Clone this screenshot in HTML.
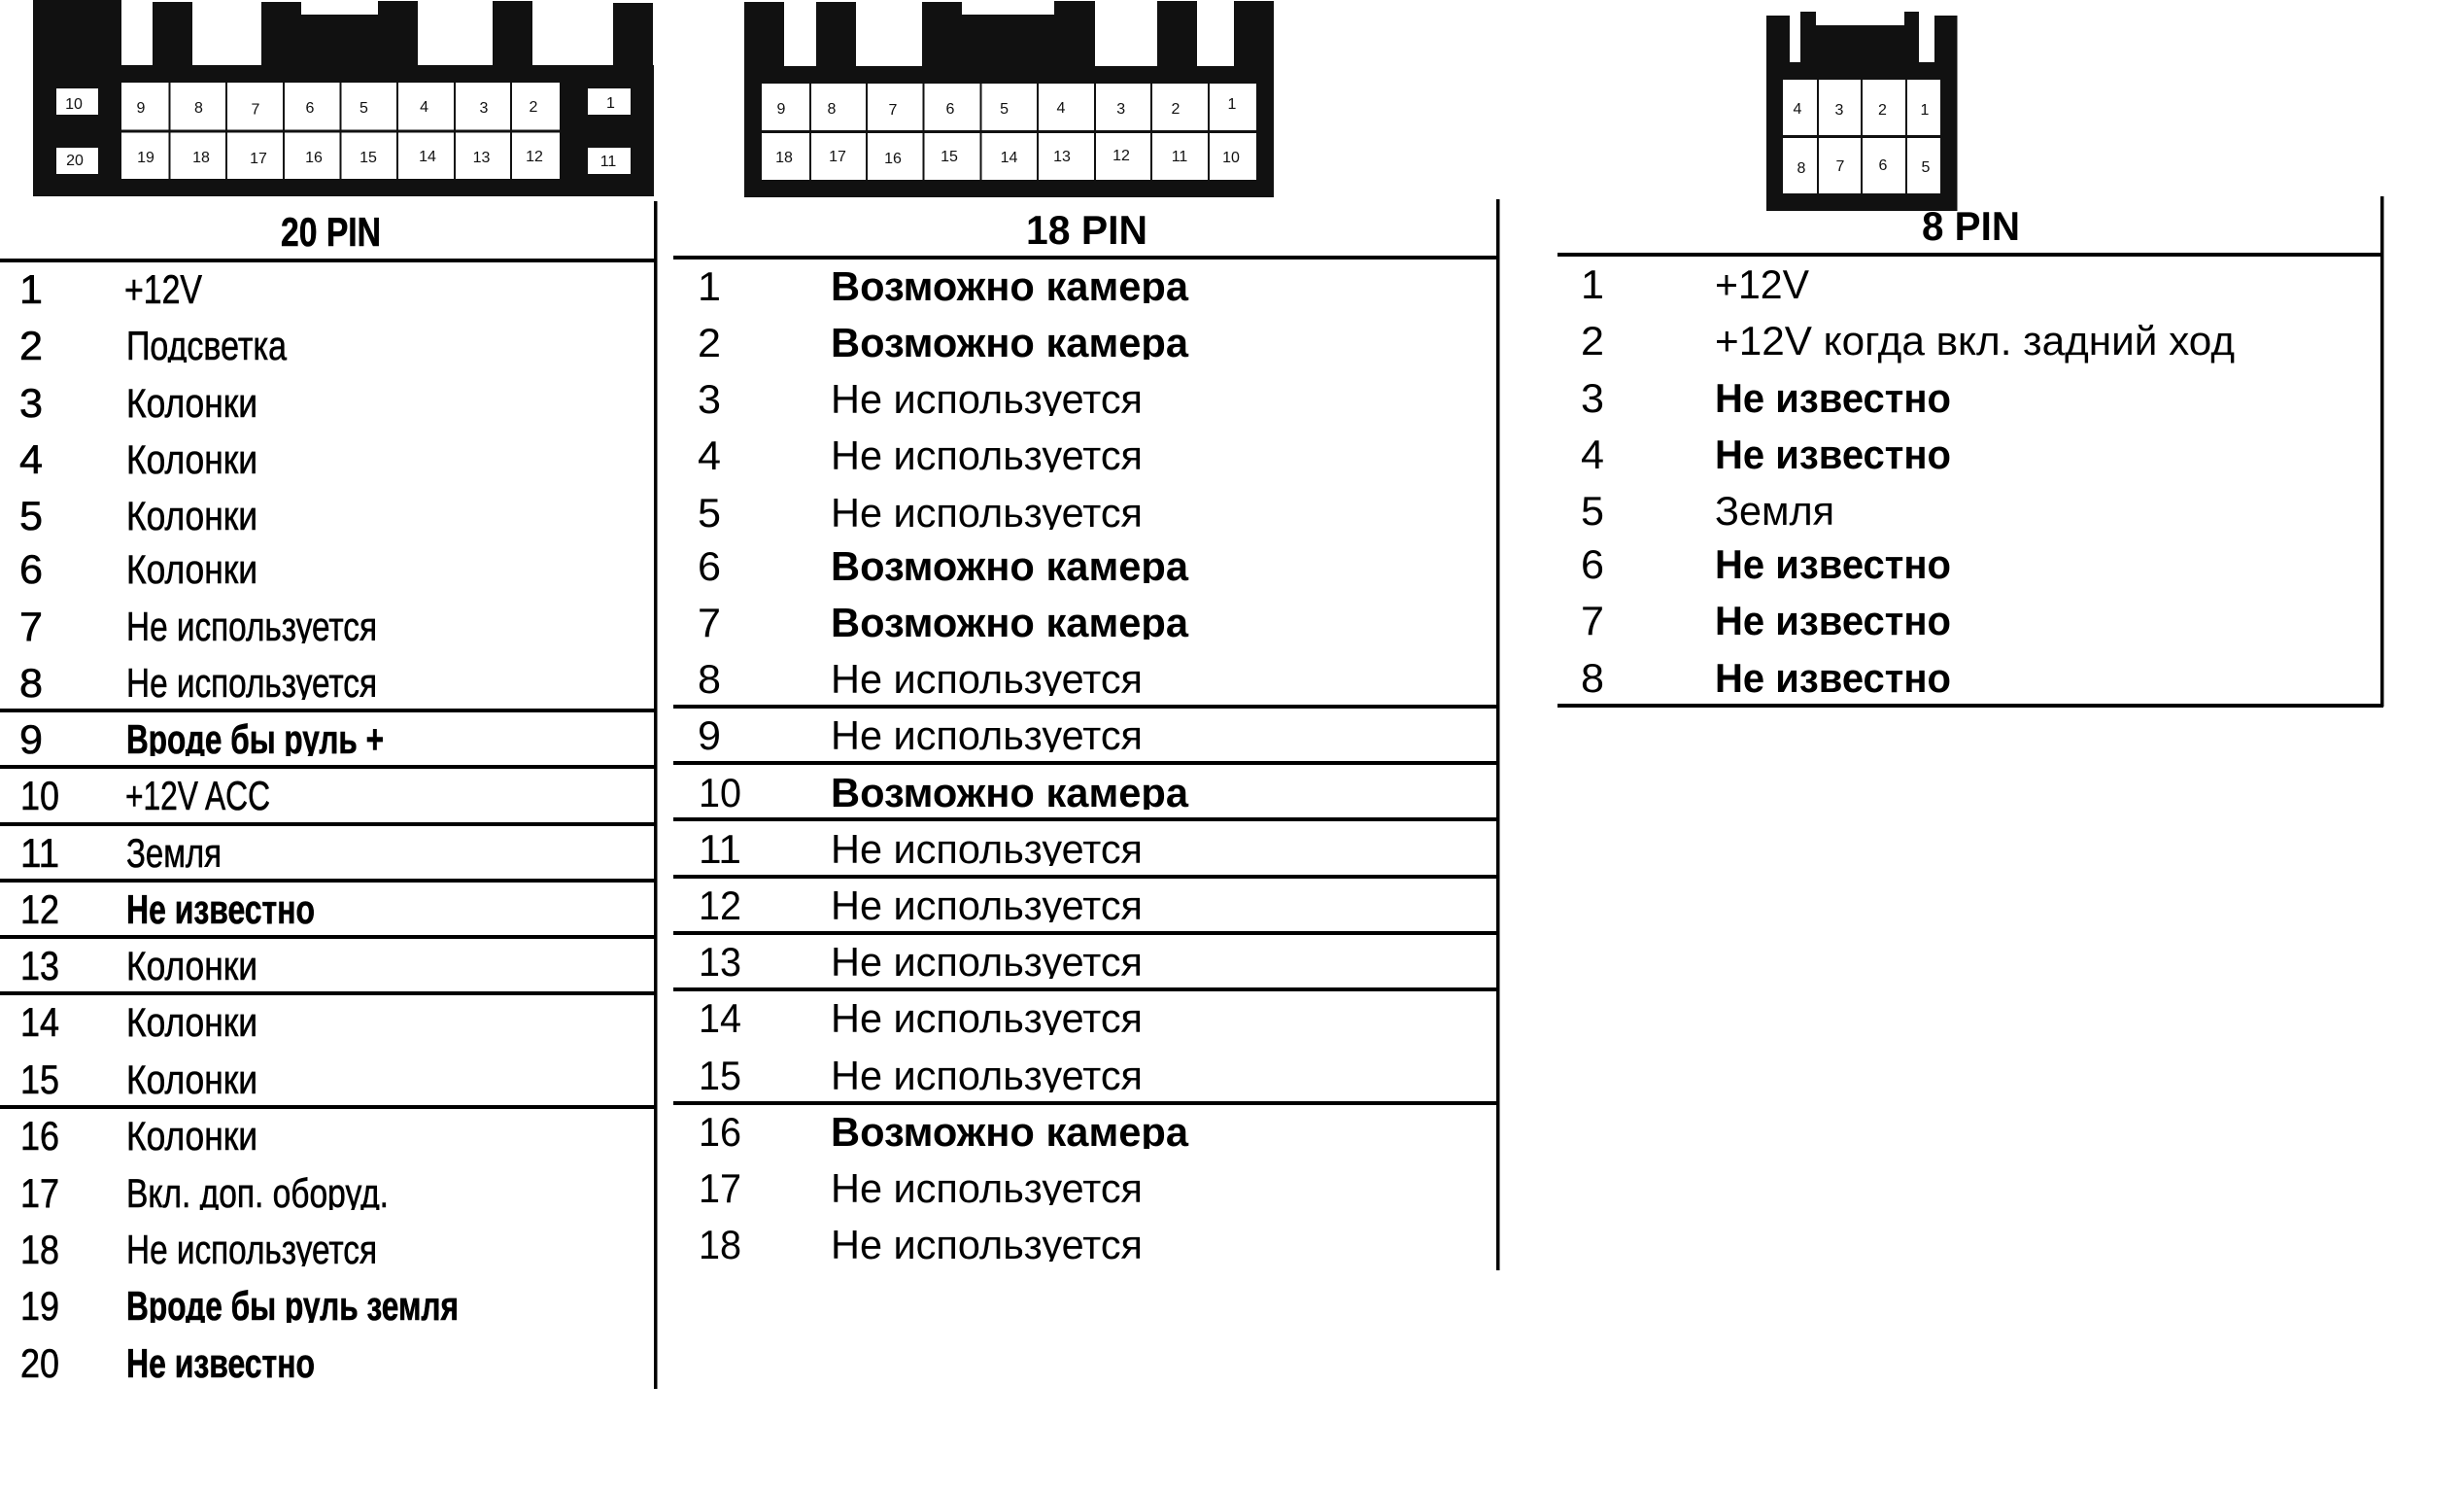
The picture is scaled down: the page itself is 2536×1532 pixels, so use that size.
<!DOCTYPE html>
<html><head><meta charset="utf-8"><style>
html,body{margin:0;padding:0;background:#fff;width:2536px;height:1532px;overflow:hidden}
svg{display:block}
text{font-family:"Liberation Sans","Noto Sans CJK SC",sans-serif;fill:#000}
.p text{font-size:16px;text-anchor:middle;fill:#111}
.t text{font-size:42px}
.b{font-weight:bold}
.h text{stroke:#000;stroke-width:.6px}
</style></head><body>
<svg xmlns="http://www.w3.org/2000/svg" width="2536" height="1532" viewBox="0 0 2536 1532">
<rect width="2536" height="1532" fill="#fff"/>

<!-- 20 pin connector -->
<path fill="#111" d="M34 0H125V67H157V2H198V67H269V2H310V15H389V1H430V67H507V1H548V67H631V3H672V67H673V202H34Z"/>
<rect x="125" y="85" width="451" height="99" fill="#fff"/>
<path stroke="#111" stroke-width="2" d="M174.5 85V184M233 85V184M292 85V184M350.5 85V184M409 85V184M468 85V184M526 85V184"/>
<rect x="125" y="133.5" width="451" height="3" fill="#111"/>
<g fill="#fff"><rect x="58" y="91" width="43" height="27"/><rect x="58" y="152" width="43" height="27"/><rect x="605" y="91" width="44" height="27"/><rect x="605" y="152" width="44" height="27"/></g>
<g class="p">
<text x="145" y="116">9</text><text x="204.5" y="116">8</text><text x="263" y="117.5">7</text><text x="319" y="116">6</text><text x="374.5" y="116">5</text><text x="436.6" y="115">4</text><text x="498" y="116">3</text><text x="549" y="115">2</text>
<text x="150" y="167">19</text><text x="207" y="167">18</text><text x="266" y="168">17</text><text x="323" y="167">16</text><text x="379" y="167">15</text><text x="440" y="166">14</text><text x="495.5" y="167">13</text><text x="550" y="166">12</text>
<text x="76" y="112">10</text><text x="77" y="170">20</text><text x="628.5" y="111">1</text><text x="626" y="171">11</text>
</g>

<!-- 18 pin connector -->
<path fill="#111" d="M766 2H807V68H840V2H881V68H949V2H990V15H1085V1H1127V68H1191V1H1232V68H1270V1H1311V203H766Z"/>
<rect x="784" y="86" width="509" height="99" fill="#fff"/>
<path stroke="#111" stroke-width="2" d="M834 86V185M892 86V185M950.5 86V185M1009.5 86V185M1068 86V185M1127 86V185M1185 86V185M1244 86V185"/>
<rect x="784" y="134" width="509" height="3" fill="#111"/>
<g class="p">
<text x="804" y="117">9</text><text x="856" y="117">8</text><text x="919" y="118">7</text><text x="978" y="117">6</text><text x="1033.6" y="117">5</text><text x="1092" y="116">4</text><text x="1153.7" y="117">3</text><text x="1210" y="117">2</text><text x="1268" y="112">1</text>
<text x="807" y="167">18</text><text x="862" y="166">17</text><text x="919" y="168">16</text><text x="977" y="166">15</text><text x="1038.5" y="167">14</text><text x="1093" y="166">13</text><text x="1154" y="165">12</text><text x="1214" y="166">11</text><text x="1267" y="167">10</text>
</g>

<!-- 8 pin connector -->
<path fill="#111" d="M1818 16H1842V64H1853V12H1869V26H1960V12H1975V64H1991V16H2014.5V217H1818Z"/>
<rect x="1835" y="82" width="162" height="117" fill="#fff"/>
<path stroke="#111" stroke-width="2" d="M1871 82V199M1916 82V199M1962 82V199"/>
<rect x="1835" y="139" width="162" height="3" fill="#111"/>
<g class="p">
<text x="1850" y="117">4</text><text x="1893" y="118">3</text><text x="1937.5" y="118">2</text><text x="1981" y="118">1</text>
<text x="1854" y="178">8</text><text x="1894" y="176">7</text><text x="1938" y="175">6</text><text x="1982" y="177">5</text>
</g>

<!-- 20 pin table text -->
<g class="t h">
<text class="b" x="289" y="253" textLength="103" lengthAdjust="spacingAndGlyphs">20 PIN</text>
<text x="20" y="312" textLength="24" lengthAdjust="spacingAndGlyphs">1</text><text x="128" y="312" textLength="80" lengthAdjust="spacingAndGlyphs">+12V</text>
<text x="20" y="370" textLength="24" lengthAdjust="spacingAndGlyphs">2</text><text x="130" y="370" textLength="165" lengthAdjust="spacingAndGlyphs">Подсветка</text>
<text x="20" y="429" textLength="24" lengthAdjust="spacingAndGlyphs">3</text><text x="130" y="429" textLength="135" lengthAdjust="spacingAndGlyphs">Колонки</text>
<text x="20" y="487" textLength="24" lengthAdjust="spacingAndGlyphs">4</text><text x="130" y="487" textLength="135" lengthAdjust="spacingAndGlyphs">Колонки</text>
<text x="20" y="545" textLength="24" lengthAdjust="spacingAndGlyphs">5</text><text x="130" y="545" textLength="135" lengthAdjust="spacingAndGlyphs">Колонки</text>
<text x="20" y="600" textLength="24" lengthAdjust="spacingAndGlyphs">6</text><text x="130" y="600" textLength="135" lengthAdjust="spacingAndGlyphs">Колонки</text>
<text x="20" y="659" textLength="24" lengthAdjust="spacingAndGlyphs">7</text><text x="130" y="659" textLength="258" lengthAdjust="spacingAndGlyphs">Не используется</text>
<text x="20" y="717" textLength="24" lengthAdjust="spacingAndGlyphs">8</text><text x="130" y="717" textLength="258" lengthAdjust="spacingAndGlyphs">Не используется</text>
<text x="20" y="775" textLength="24" lengthAdjust="spacingAndGlyphs">9</text><text class="b" x="130" y="775" textLength="265" lengthAdjust="spacingAndGlyphs">Вроде бы руль +</text>
<text x="21" y="833" textLength="40" lengthAdjust="spacingAndGlyphs">10</text><text x="129" y="833" textLength="149" lengthAdjust="spacingAndGlyphs">+12V ACC</text>
<text x="21" y="892" textLength="40" lengthAdjust="spacingAndGlyphs">11</text><text x="130" y="892" textLength="98" lengthAdjust="spacingAndGlyphs">Земля</text>
<text x="21" y="950" textLength="40" lengthAdjust="spacingAndGlyphs">12</text><text class="b" x="130" y="950" textLength="194" lengthAdjust="spacingAndGlyphs">Не известно</text>
<text x="21" y="1008" textLength="40" lengthAdjust="spacingAndGlyphs">13</text><text x="130" y="1008" textLength="135" lengthAdjust="spacingAndGlyphs">Колонки</text>
<text x="21" y="1066" textLength="40" lengthAdjust="spacingAndGlyphs">14</text><text x="130" y="1066" textLength="135" lengthAdjust="spacingAndGlyphs">Колонки</text>
<text x="21" y="1125" textLength="40" lengthAdjust="spacingAndGlyphs">15</text><text x="130" y="1125" textLength="135" lengthAdjust="spacingAndGlyphs">Колонки</text>
<text x="21" y="1183" textLength="40" lengthAdjust="spacingAndGlyphs">16</text><text x="130" y="1183" textLength="135" lengthAdjust="spacingAndGlyphs">Колонки</text>
<text x="21" y="1242" textLength="40" lengthAdjust="spacingAndGlyphs">17</text><text x="130" y="1242" textLength="270" lengthAdjust="spacingAndGlyphs">Вкл. доп. оборуд.</text>
<text x="21" y="1300" textLength="40" lengthAdjust="spacingAndGlyphs">18</text><text x="130" y="1300" textLength="258" lengthAdjust="spacingAndGlyphs">Не используется</text>
<text x="21" y="1358" textLength="40" lengthAdjust="spacingAndGlyphs">19</text><text class="b" x="130" y="1358" textLength="342" lengthAdjust="spacingAndGlyphs">Вроде бы руль земля</text>
<text x="21" y="1417" textLength="40" lengthAdjust="spacingAndGlyphs">20</text><text class="b" x="130" y="1417" textLength="194" lengthAdjust="spacingAndGlyphs">Не известно</text>
</g>

<!-- 18 pin table text -->
<g class="t">
<text class="b" x="1056" y="251" textLength="125" lengthAdjust="spacingAndGlyphs">18 PIN</text>
<text x="718" y="309" textLength="24" lengthAdjust="spacingAndGlyphs">1</text><text class="b" x="855" y="309" textLength="368" lengthAdjust="spacingAndGlyphs">Возможно камера</text>
<text x="718" y="367" textLength="24" lengthAdjust="spacingAndGlyphs">2</text><text class="b" x="855" y="367" textLength="368" lengthAdjust="spacingAndGlyphs">Возможно камера</text>
<text x="718" y="425" textLength="24" lengthAdjust="spacingAndGlyphs">3</text><text x="855" y="425" textLength="321" lengthAdjust="spacingAndGlyphs">Не используется</text>
<text x="718" y="483" textLength="24" lengthAdjust="spacingAndGlyphs">4</text><text x="855" y="483" textLength="321" lengthAdjust="spacingAndGlyphs">Не используется</text>
<text x="718" y="542" textLength="24" lengthAdjust="spacingAndGlyphs">5</text><text x="855" y="542" textLength="321" lengthAdjust="spacingAndGlyphs">Не используется</text>
<text x="718" y="597" textLength="24" lengthAdjust="spacingAndGlyphs">6</text><text class="b" x="855" y="597" textLength="368" lengthAdjust="spacingAndGlyphs">Возможно камера</text>
<text x="718" y="655" textLength="24" lengthAdjust="spacingAndGlyphs">7</text><text class="b" x="855" y="655" textLength="368" lengthAdjust="spacingAndGlyphs">Возможно камера</text>
<text x="718" y="713" textLength="24" lengthAdjust="spacingAndGlyphs">8</text><text x="855" y="713" textLength="321" lengthAdjust="spacingAndGlyphs">Не используется</text>
<text x="718" y="771" textLength="24" lengthAdjust="spacingAndGlyphs">9</text><text x="855" y="771" textLength="321" lengthAdjust="spacingAndGlyphs">Не используется</text>
<text x="719" y="830" textLength="44" lengthAdjust="spacingAndGlyphs">10</text><text class="b" x="855" y="830" textLength="368" lengthAdjust="spacingAndGlyphs">Возможно камера</text>
<text x="719" y="888" textLength="44" lengthAdjust="spacingAndGlyphs">11</text><text x="855" y="888" textLength="321" lengthAdjust="spacingAndGlyphs">Не используется</text>
<text x="719" y="946" textLength="44" lengthAdjust="spacingAndGlyphs">12</text><text x="855" y="946" textLength="321" lengthAdjust="spacingAndGlyphs">Не используется</text>
<text x="719" y="1004" textLength="44" lengthAdjust="spacingAndGlyphs">13</text><text x="855" y="1004" textLength="321" lengthAdjust="spacingAndGlyphs">Не используется</text>
<text x="719" y="1062" textLength="44" lengthAdjust="spacingAndGlyphs">14</text><text x="855" y="1062" textLength="321" lengthAdjust="spacingAndGlyphs">Не используется</text>
<text x="719" y="1121" textLength="44" lengthAdjust="spacingAndGlyphs">15</text><text x="855" y="1121" textLength="321" lengthAdjust="spacingAndGlyphs">Не используется</text>
<text x="719" y="1179" textLength="44" lengthAdjust="spacingAndGlyphs">16</text><text class="b" x="855" y="1179" textLength="368" lengthAdjust="spacingAndGlyphs">Возможно камера</text>
<text x="719" y="1237" textLength="44" lengthAdjust="spacingAndGlyphs">17</text><text x="855" y="1237" textLength="321" lengthAdjust="spacingAndGlyphs">Не используется</text>
<text x="719" y="1295" textLength="44" lengthAdjust="spacingAndGlyphs">18</text><text x="855" y="1295" textLength="321" lengthAdjust="spacingAndGlyphs">Не используется</text>
</g>

<!-- 8 pin table text -->
<g class="t">
<text class="b" x="1978" y="247" textLength="101" lengthAdjust="spacingAndGlyphs">8 PIN</text>
<text x="1627" y="307" textLength="24" lengthAdjust="spacingAndGlyphs">1</text><text x="1765" y="307" textLength="97" lengthAdjust="spacingAndGlyphs">+12V</text>
<text x="1627" y="365" textLength="24" lengthAdjust="spacingAndGlyphs">2</text><text x="1765" y="365" textLength="535" lengthAdjust="spacingAndGlyphs">+12V когда вкл. задний ход</text>
<text x="1627" y="424" textLength="24" lengthAdjust="spacingAndGlyphs">3</text><text class="b" x="1765" y="424" textLength="243" lengthAdjust="spacingAndGlyphs">Не известно</text>
<text x="1627" y="482" textLength="24" lengthAdjust="spacingAndGlyphs">4</text><text class="b" x="1765" y="482" textLength="243" lengthAdjust="spacingAndGlyphs">Не известно</text>
<text x="1627" y="540" textLength="24" lengthAdjust="spacingAndGlyphs">5</text><text x="1765" y="540" textLength="123" lengthAdjust="spacingAndGlyphs">Земля</text>
<text x="1627" y="595" textLength="24" lengthAdjust="spacingAndGlyphs">6</text><text class="b" x="1765" y="595" textLength="243" lengthAdjust="spacingAndGlyphs">Не известно</text>
<text x="1627" y="653" textLength="24" lengthAdjust="spacingAndGlyphs">7</text><text class="b" x="1765" y="653" textLength="243" lengthAdjust="spacingAndGlyphs">Не известно</text>
<text x="1627" y="712" textLength="24" lengthAdjust="spacingAndGlyphs">8</text><text class="b" x="1765" y="712" textLength="243" lengthAdjust="spacingAndGlyphs">Не известно</text>
</g>

<!-- descender clipping, as in the reference -->
<g fill="#fff">
<rect x="125" y="373" width="300" height="11"/><rect x="125" y="662" width="300" height="11"/><rect x="125" y="720" width="300" height="9"/><rect x="125" y="778" width="300" height="9"/><rect x="125" y="953" width="300" height="9"/><rect x="125" y="1245" width="300" height="11"/><rect x="125" y="1303" width="300" height="11"/><rect x="125" y="1361" width="360" height="11"/><rect x="125" y="1420" width="300" height="9"/>
<rect x="850" y="312" width="400" height="11"/><rect x="850" y="370" width="400" height="11"/><rect x="850" y="428" width="400" height="11"/><rect x="850" y="486" width="400" height="11"/><rect x="850" y="545" width="400" height="11"/><rect x="850" y="600" width="400" height="11"/><rect x="850" y="658" width="400" height="11"/><rect x="850" y="716" width="400" height="8"/><rect x="850" y="774" width="400" height="8"/><rect x="850" y="833" width="400" height="7"/><rect x="850" y="891" width="400" height="7"/><rect x="850" y="949" width="400" height="7"/><rect x="850" y="1007" width="400" height="8"/><rect x="850" y="1065" width="400" height="11"/><rect x="850" y="1124" width="400" height="8"/><rect x="850" y="1182" width="400" height="11"/><rect x="850" y="1240" width="400" height="11"/><rect x="850" y="1298" width="400" height="11"/>
</g>

<!-- table lines -->
<g fill="#000">
<rect x="0" y="266" width="674" height="4"/>
<rect x="0" y="729" width="674" height="4"/><rect x="0" y="787" width="674" height="4"/><rect x="0" y="846" width="674" height="4"/><rect x="0" y="904" width="674" height="4"/><rect x="0" y="962" width="674" height="4"/><rect x="0" y="1020" width="674" height="4"/><rect x="0" y="1137" width="674" height="4"/>
<rect x="673" y="207" width="3.5" height="1222"/>

<rect x="693" y="263" width="848" height="4"/>
<rect x="693" y="725" width="848" height="4"/><rect x="693" y="783" width="848" height="4"/><rect x="693" y="841" width="848" height="4"/><rect x="693" y="900" width="848" height="4"/><rect x="693" y="958" width="848" height="4"/><rect x="693" y="1016" width="848" height="4"/><rect x="693" y="1133" width="848" height="4"/>
<rect x="1540" y="205" width="3.5" height="1102"/>

<rect x="1603" y="260" width="850" height="4"/>
<rect x="1603" y="724" width="850" height="4"/>
<rect x="2450" y="202" width="3.5" height="525"/>
</g>
</svg>
</body></html>
